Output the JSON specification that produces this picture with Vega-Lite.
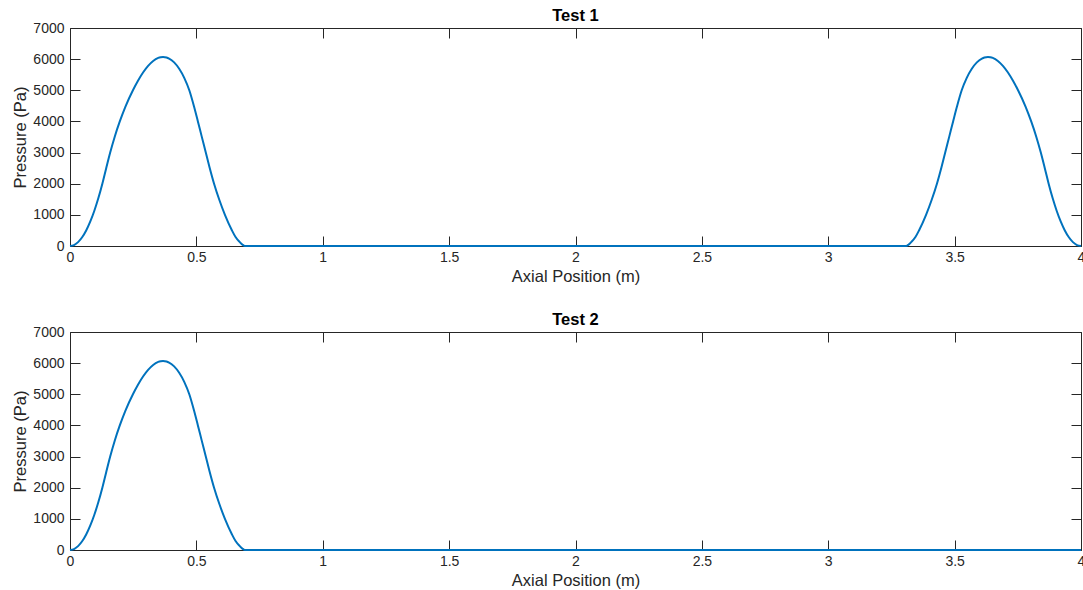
{
  "$schema": "https://vega.github.io/schema/vega-lite/v6.json",
  "autosize": {"type": "pad"},
  "padding": {"left": 12, "top": 7, "right": 0, "bottom": 0},
  "background": "white",
  "spacing": 26,
  "datasets": {
    "t1": [
      {"x": 0, "p": 0}, {"x": 0.016, "p": 31}, {"x": 0.032, "p": 125}, {"x": 0.048, "p": 281}, {"x": 0.064, "p": 500},
      {"x": 0.08, "p": 781}, {"x": 0.096, "p": 1125}, {"x": 0.112, "p": 1531}, {"x": 0.128, "p": 2000}, {"x": 0.143, "p": 2490},
      {"x": 0.159, "p": 3000}, {"x": 0.177, "p": 3510}, {"x": 0.197, "p": 4000}, {"x": 0.219, "p": 4470}, {"x": 0.249, "p": 5000},
      {"x": 0.269, "p": 5306}, {"x": 0.289, "p": 5571}, {"x": 0.309, "p": 5785}, {"x": 0.329, "p": 5943}, {"x": 0.349, "p": 6039},
      {"x": 0.359, "p": 6062}, {"x": 0.368, "p": 6070}, {"x": 0.382, "p": 6054}, {"x": 0.392, "p": 6019}, {"x": 0.412, "p": 5895},
      {"x": 0.432, "p": 5692}, {"x": 0.452, "p": 5400}, {"x": 0.472, "p": 5000}, {"x": 0.491, "p": 4470}, {"x": 0.506, "p": 4000},
      {"x": 0.521, "p": 3520}, {"x": 0.537, "p": 3010}, {"x": 0.552, "p": 2530}, {"x": 0.57, "p": 2000}, {"x": 0.591, "p": 1476},
      {"x": 0.613, "p": 1000}, {"x": 0.64, "p": 513}, {"x": 0.655, "p": 290}, {"x": 0.67, "p": 140}, {"x": 0.682, "p": 45},
      {"x": 0.692, "p": 0}, {"x": 1.5, "p": 0}, {"x": 2.5, "p": 0},
      {"x": 3.308, "p": 0}, {"x": 3.318, "p": 45}, {"x": 3.33, "p": 140}, {"x": 3.345, "p": 290}, {"x": 3.36, "p": 513},
      {"x": 3.387, "p": 1000}, {"x": 3.409, "p": 1476}, {"x": 3.43, "p": 2000}, {"x": 3.448, "p": 2530}, {"x": 3.463, "p": 3010},
      {"x": 3.479, "p": 3520}, {"x": 3.494, "p": 4000}, {"x": 3.509, "p": 4470}, {"x": 3.528, "p": 5000}, {"x": 3.548, "p": 5400},
      {"x": 3.568, "p": 5692}, {"x": 3.588, "p": 5895}, {"x": 3.608, "p": 6019}, {"x": 3.618, "p": 6054}, {"x": 3.632, "p": 6070},
      {"x": 3.641, "p": 6062}, {"x": 3.651, "p": 6039}, {"x": 3.671, "p": 5943}, {"x": 3.691, "p": 5785}, {"x": 3.711, "p": 5571},
      {"x": 3.731, "p": 5306}, {"x": 3.751, "p": 5000}, {"x": 3.781, "p": 4470}, {"x": 3.803, "p": 4000}, {"x": 3.823, "p": 3510},
      {"x": 3.841, "p": 3000}, {"x": 3.857, "p": 2490}, {"x": 3.872, "p": 2000}, {"x": 3.888, "p": 1531}, {"x": 3.904, "p": 1125},
      {"x": 3.92, "p": 781}, {"x": 3.936, "p": 500}, {"x": 3.952, "p": 281}, {"x": 3.968, "p": 125}, {"x": 3.984, "p": 31},
      {"x": 4, "p": 0}
    ],
    "t2": [
      {"x": 0, "p": 0}, {"x": 0.016, "p": 31}, {"x": 0.032, "p": 125}, {"x": 0.048, "p": 281}, {"x": 0.064, "p": 500},
      {"x": 0.08, "p": 781}, {"x": 0.096, "p": 1125}, {"x": 0.112, "p": 1531}, {"x": 0.128, "p": 2000}, {"x": 0.143, "p": 2490},
      {"x": 0.159, "p": 3000}, {"x": 0.177, "p": 3510}, {"x": 0.197, "p": 4000}, {"x": 0.219, "p": 4470}, {"x": 0.249, "p": 5000},
      {"x": 0.269, "p": 5306}, {"x": 0.289, "p": 5571}, {"x": 0.309, "p": 5785}, {"x": 0.329, "p": 5943}, {"x": 0.349, "p": 6039},
      {"x": 0.359, "p": 6062}, {"x": 0.368, "p": 6070}, {"x": 0.382, "p": 6054}, {"x": 0.392, "p": 6019}, {"x": 0.412, "p": 5895},
      {"x": 0.432, "p": 5692}, {"x": 0.452, "p": 5400}, {"x": 0.472, "p": 5000}, {"x": 0.491, "p": 4470}, {"x": 0.506, "p": 4000},
      {"x": 0.521, "p": 3520}, {"x": 0.537, "p": 3010}, {"x": 0.552, "p": 2530}, {"x": 0.57, "p": 2000}, {"x": 0.591, "p": 1476},
      {"x": 0.613, "p": 1000}, {"x": 0.64, "p": 513}, {"x": 0.655, "p": 290}, {"x": 0.67, "p": 140}, {"x": 0.682, "p": 45},
      {"x": 0.692, "p": 0}, {"x": 1.5, "p": 0}, {"x": 2.5, "p": 0}, {"x": 4, "p": 0}
    ]
  },
  "config": {
    "font": "Liberation Sans",
    "view": {"stroke": "#262626", "strokeWidth": 1},
    "axis": {
      "grid": false, "domain": false, "tickColor": "#262626", "tickSize": -10, "tickWidth": 1,
      "labelColor": "#262626", "titleColor": "#262626", "labelFontSize": 14, "titleFontSize": 16.5,
      "titleFontWeight": "normal", "labelFlush": false, "labelOverlap": false
    },
    "axisX": {"labelPadding": 14, "titlePadding": 4},
    "axisY": {"labelPadding": 16, "titlePadding": 4},
    "title": {"fontSize": 16.5, "fontWeight": "bold", "color": "#000000", "offset": -3}
  },
  "vconcat": [
    {
      "title": "Test 1",
      "width": 1011, "height": 218,
      "data": {"name": "t1"},
      "layer": [
        {
          "mark": {"type": "line", "color": "#0072BD", "strokeWidth": 2, "interpolate": "monotone"},
          "encoding": {
            "x": {"field": "x", "type": "quantitative", "scale": {"domain": [0, 4], "nice": false},
                  "axis": {"orient": "bottom", "values": [0, 0.5, 1, 1.5, 2, 2.5, 3, 3.5, 4], "format": "~g", "title": "Axial Position (m)"}},
            "y": {"field": "p", "type": "quantitative", "scale": {"domain": [0, 7000], "nice": false},
                  "axis": {"orient": "left", "values": [0, 1000, 2000, 3000, 4000, 5000, 6000, 7000], "format": "d", "title": "Pressure (Pa)"}}
          }
        },
        {
          "mark": {"type": "line", "opacity": 0},
          "encoding": {
            "x": {"field": "x", "type": "quantitative", "axis": {"orient": "top", "values": [0, 0.5, 1, 1.5, 2, 2.5, 3, 3.5, 4], "labels": false, "title": null}},
            "y": {"field": "p", "type": "quantitative", "axis": {"orient": "right", "values": [0, 1000, 2000, 3000, 4000, 5000, 6000, 7000], "labels": false, "title": null}}
          }
        }
      ]
    },
    {
      "title": "Test 2",
      "width": 1011, "height": 218,
      "data": {"name": "t2"},
      "layer": [
        {
          "mark": {"type": "line", "color": "#0072BD", "strokeWidth": 2, "interpolate": "monotone"},
          "encoding": {
            "x": {"field": "x", "type": "quantitative", "scale": {"domain": [0, 4], "nice": false},
                  "axis": {"orient": "bottom", "values": [0, 0.5, 1, 1.5, 2, 2.5, 3, 3.5, 4], "format": "~g", "title": "Axial Position (m)"}},
            "y": {"field": "p", "type": "quantitative", "scale": {"domain": [0, 7000], "nice": false},
                  "axis": {"orient": "left", "values": [0, 1000, 2000, 3000, 4000, 5000, 6000, 7000], "format": "d", "title": "Pressure (Pa)"}}
          }
        },
        {
          "mark": {"type": "line", "opacity": 0},
          "encoding": {
            "x": {"field": "x", "type": "quantitative", "axis": {"orient": "top", "values": [0, 0.5, 1, 1.5, 2, 2.5, 3, 3.5, 4], "labels": false, "title": null}},
            "y": {"field": "p", "type": "quantitative", "axis": {"orient": "right", "values": [0, 1000, 2000, 3000, 4000, 5000, 6000, 7000], "labels": false, "title": null}}
          }
        }
      ]
    }
  ]
}
